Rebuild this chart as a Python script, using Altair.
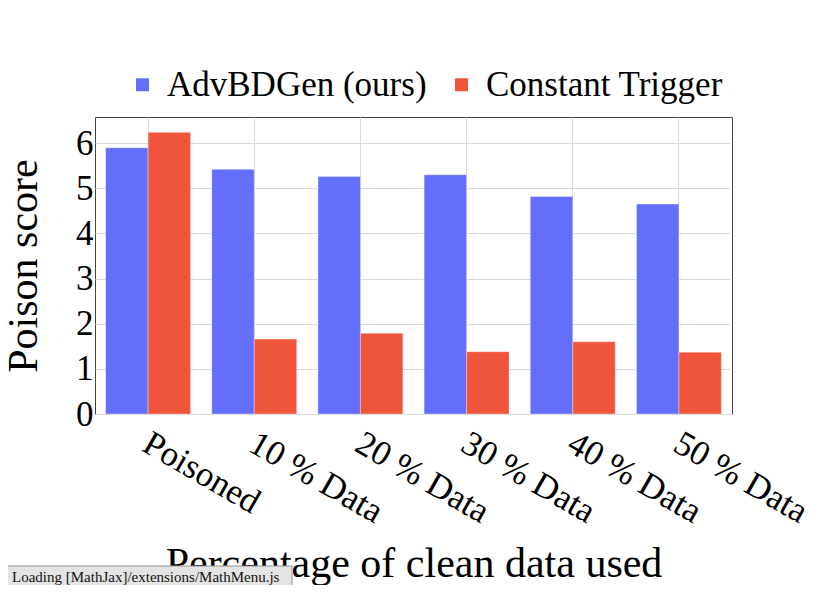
import altair as alt
import pandas as pd

categories = ["Poisoned", "10 % Data", "20 % Data", "30 % Data", "40 % Data", "50 % Data"]
methods = ["AdvBDGen (ours)", "Constant Trigger"]
advbdgen = [5.90, 5.42, 5.26, 5.30, 4.82, 4.65]
constant = [6.24, 1.66, 1.79, 1.38, 1.60, 1.37]
colors = ["#636EFA", "#EF553B"]
y_ticks = [0, 1, 2, 3, 4, 5, 6]
notice = ["Loading [MathJax]/extensions/MathMenu.js"]

rows = []
for c, a, k in zip(categories, advbdgen, constant):
    rows.append({"category": c, "method": methods[0], "score": a})
    rows.append({"category": c, "method": methods[1], "score": k})
df = pd.DataFrame(rows)

FONT = "Liberation Serif"

bars = alt.Chart(df).mark_bar(stroke="white", strokeWidth=0.5, strokeOpacity=0.7).encode(
    x=alt.X(
        "category:N",
        sort=categories,
        scale=alt.Scale(paddingInner=0.2, paddingOuter=0.1),
        axis=alt.Axis(
            title="Percentage of clean data used",
            titleFontSize=42,
            titleFontWeight="normal",
            titleColor="black",
            titleFont=FONT,
            titleY=162,
            titleBaseline="alphabetic",
            labelAngle=30,
            labelAlign="left",
            labelBaseline="middle",
            labelPadding=26,
            labelOffset=-2,
            labelFontSize=35,
            labelFont=FONT,
            labelColor="black",
            labelLimit=400,
            labelOverlap=False,
            labelFlush=False,
            ticks=False,
            tickSize=0,
            domain=False,
            grid=True,
            gridColor="#dadada",
            gridWidth=1,
            bandPosition=0.5,
        ),
    ),
    xOffset=alt.XOffset("method:N", sort=methods, scale=alt.Scale(paddingInner=0, paddingOuter=0)),
    y=alt.Y(
        "score:Q",
        scale=alt.Scale(domain=[0, 6.58], nice=False, zero=True),
        axis=alt.Axis(
            values=y_ticks,
            title="Poison score",
            titleFontSize=42,
            titleFontWeight="normal",
            titleColor="black",
            titleFont=FONT,
            titleX=-59,
            titleY=148.5,
            titleBaseline="alphabetic",
            labelFontSize=35,
            labelFont=FONT,
            labelColor="black",
            labelPadding=2,
            labelFlush=False,
            labelOverlap=False,
            ticks=False,
            tickSize=0,
            domain=False,
            grid=True,
            gridColor="#dadada",
            gridWidth=1,
        ),
    ),
    color=alt.Color(
        "method:N",
        sort=methods,
        scale=alt.Scale(domain=methods, range=colors),
        legend=alt.Legend(
            title=None,
            orient="none",
            direction="horizontal",
            legendX=30,
            legendY=-50,
            symbolType="square",
            symbolSize=169,
            symbolStrokeWidth=0,
            symbolOpacity=1,
            labelFontSize=35,
            labelFont=FONT,
            labelColor="black",
            labelOffset=7,
            labelLimit=500,
            columnPadding=17,
            padding=0,
        ),
    ),
)

note_df = pd.DataFrame({"t": notice})
box = alt.Chart(note_df).mark_rect(fill="#e4e4e4", stroke="#959595", strokeWidth=1).encode(
    x=alt.value(-93), x2=alt.value(197), y=alt.value(449), y2=alt.value(473)
)
box_text = alt.Chart(note_df).mark_text(
    align="left", baseline="alphabetic", fontSize=15, font=FONT, color="#111"
).encode(x=alt.value(-83), y=alt.value(465), text="t:N")

chart = (
    alt.layer(bars, box, box_text)
    .properties(
        width=637,
        height=297,
        autosize=alt.AutoSizeParams(type="none"),
        padding={"left": 87, "top": 109, "right": 86, "bottom": 171},
    )
    .configure(font=FONT)
    .configure_view(stroke="#444", strokeWidth=1)
)

chart.save("out.html", embed_options={"renderer": "svg", "actions": False})
